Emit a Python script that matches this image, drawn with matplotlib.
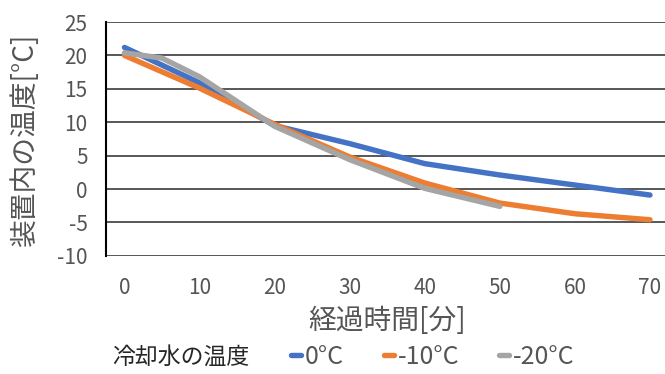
import matplotlib
matplotlib.use('Agg')
import matplotlib.pyplot as plt

plt.rcParams['font.family'] = ['Noto Sans CJK JP', 'DejaVu Sans']
plt.rcParams['axes.unicode_minus'] = False

# 経過時間[分] と 装置内の温度[°C]
minutes = [0, 10, 20, 30, 40, 50, 60, 70]
temp_0c = [21.2, 15.9, 9.5, 6.8, 3.8, 2.1, 0.6, -0.9]
temp_m10c = [20.0, 15.1, 9.7, 4.8, 0.9, -2.1, -3.7, -4.6]
minutes_m20 = [0, 5, 10, 20, 30, 40, 50]
temp_m20c = [20.4, 19.6, 16.8, 9.4, 4.4, 0.1, -2.6]

series_labels = ['0°C', '-10°C', '-20°C']
colors = ['#4472C4', '#ED7D31', '#A5A5A5']
y_ticks = [-10, -5, 0, 5, 10, 15, 20, 25]
x_ticks = [0, 10, 20, 30, 40, 50, 60, 70]

fig = plt.figure(figsize=(6.65, 3.74), dpi=100)
ax = fig.add_axes([0.159, 0.316, 0.841, 0.625])

lines = []
for xs, ys, c, lab in [(minutes, temp_0c, colors[0], series_labels[0]),
                       (minutes, temp_m10c, colors[1], series_labels[1]),
                       (minutes_m20, temp_m20c, colors[2], series_labels[2])]:
    ln, = ax.plot(xs, ys, color=c, linewidth=3.9, solid_capstyle='round',
                  solid_joinstyle='round', label=lab, zorder=3)
    lines.append(ln)

ax.set_xlim(-2.5, 72.0)
ax.set_ylim(-10, 25)
ax.set_yticks(y_ticks)
ax.set_xticks(x_ticks)
ax.yaxis.grid(True, color='#2a2a2a', linewidth=1.1)
ax.set_axisbelow(True)
for s in ['top', 'right', 'bottom']:
    ax.spines[s].set_visible(False)
ax.spines['left'].set_color('black')
ax.spines['left'].set_linewidth(1.5)
ax.tick_params(axis='both', length=0, labelsize=15, colors='#555555')
ax.tick_params(axis='y', pad=13)
ax.tick_params(axis='x', pad=15)

fig.text(387 / 665, 1 - 321 / 374, '経過時間[分]', ha='center', va='center',
         fontsize=20, color='#555555')
fig.text(25 / 665, 1 - 139 / 374, '装置内の温度[°C]', ha='center', va='center',
         rotation=90, fontsize=20, color='#555555')

# 凡例
fig.text(112 / 665, 1 - 357 / 374, '冷却水の温度', ha='left', va='center',
         fontsize=16.5, color='#262626')
leg = fig.legend(handles=lines, labels=series_labels, loc='center left',
                 bbox_to_anchor=(291 / 665, 1 - 357 / 374), ncol=3, frameon=False,
                 fontsize=18, handlelength=0.4, handletextpad=0.15,
                 columnspacing=1.6, borderpad=0, borderaxespad=0,
                 labelcolor='#555555')

fig.savefig('out.png', dpi=100)
